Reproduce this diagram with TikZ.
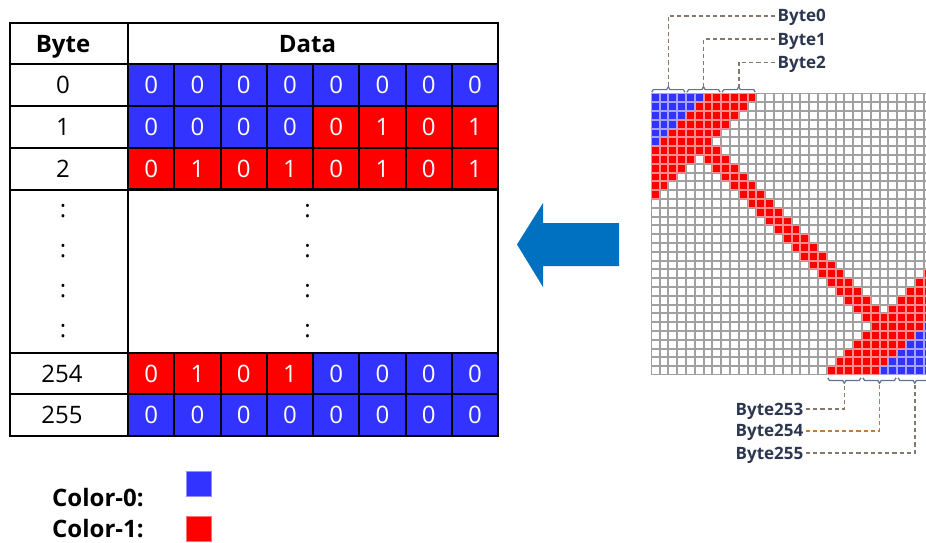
\documentclass[tikz,border=0pt]{standalone}
\usepackage{fontspec}
\setmainfont{Open Sans}
\definecolor{cblue}{RGB}{51,51,255}
\definecolor{cred}{RGB}{255,0,0}
\definecolor{arrowblue}{RGB}{0,112,192}
\definecolor{lblcol}{RGB}{45,55,80}
\definecolor{dashcol}{RGB}{135,120,110}
\definecolor{dashor}{RGB}{200,120,50}
\definecolor{brcol}{RGB}{95,115,145}
\definecolor{gridgray}{RGB}{160,160,160}
\tikzset{
  tfont/.style={font=\fontsize{24}{28}\selectfont, inner sep=0pt},
  thead/.style={font=\bfseries\fontsize{24}{28}\selectfont, inner sep=0pt, anchor=base},
  tcell/.style={draw=black, line width=2pt, minimum width=46.25pt, minimum height=41.5pt,
                inner sep=0pt, text=white, font=\fontsize{24}{28}\selectfont},
  blbl/.style={font=\bfseries\fontsize{17}{19}\selectfont, text=lblcol, inner xsep=2.5pt,
               inner ysep=0pt, text height=12pt, text depth=0pt},
  dashline/.style={draw=dashcol, line width=1.6pt, dash pattern=on 4.2pt off 3pt},
  bracket/.style={draw=brcol, line width=1.2pt, line join=round},
  lgd/.style={font=\bfseries\fontsize{24}{28}\selectfont, inner sep=0pt, anchor=base west},
  lsq/.style={minimum size=25pt, inner sep=0pt, line width=0.6pt}
}
\begin{document}
\begin{tikzpicture}[x=1pt,y=-1pt]
\useasboundingbox (0,0) rectangle (926,542);
\fill[white] (0,0) rectangle (926,542);

% ---------------- table ----------------
\foreach \i in {0,...,7}
  \node[tcell, fill=cblue] (ra\i) at ({128+46.25*(\i+0.5)},85) {0};
\foreach \i/\v/\f in {0/0/cblue,1/0/cblue,2/0/cblue,3/0/cblue,4/0/cred,5/1/cred,6/0/cred,7/1/cred}
  \node[tcell, fill=\f] (rb\i) at ({128+46.25*(\i+0.5)},127) {\v};
\foreach \i/\v in {0/0,1/1,2/0,3/1,4/0,5/1,6/0,7/1}
  \node[tcell, fill=cred] (rc\i) at ({128+46.25*(\i+0.5)},168.5) {\v};
\foreach \i/\v/\f in {0/0/cred,1/1/cred,2/0/cred,3/1/cred,4/0/cblue,5/0/cblue,6/0/cblue,7/0/cblue}
  \node[tcell, fill=\f] (rd\i) at ({128+46.25*(\i+0.5)},373.5) {\v};
\foreach \i in {0,...,7}
  \node[tcell, fill=cblue] (re\i) at ({128+46.25*(\i+0.5)},415) {0};

\draw[line width=2pt] (10,64) -- (498,64);
\draw[line width=2pt] (10,106) -- (128,106);
\draw[line width=2pt] (10,148) -- (128,148);
\draw[line width=2pt] (10,189.5) -- (498,189.5);
\draw[line width=2pt] (10,352.7) -- (498,352.7);
\draw[line width=2pt] (10,394.3) -- (128,394.3);
\draw[line width=2pt] (128,23) -- (128,436);
\draw[line width=2.4pt] (10,23) rectangle (498,436);

\node[thead] (hbyte) at (63,52.3) {Byte};
\node[thead] (hdata) at (307.5,52.3) {Data};

\node[tfont] (k0) at (63,85) {0};
\node[tfont] (k1) at (63,127) {1};
\node[tfont] (k2) at (63,168.5) {2};
\node[tfont] (k254) at (62,373.5) {254};
\node[tfont] (k255) at (62,415) {255};
\foreach \y [count=\n] in {211,251,291,331}{
  \node[tfont, anchor=base] (kd\n) at (63,\y+6.5) {:};
  \node[tfont, anchor=base] (dd\n) at (307.5,\y+6.5) {:};
}

% ---------------- legend ----------------
\node[lgd] (c0) at (52,506) {Color-0:};
\node[lgd] (c1) at (52,537.5) {Color-1:};
\node[lsq, fill=cblue, draw=cblue!55!white] (sq0) at (198.5,483.5) {};
\node[lsq, fill=cred, draw=cred!55!white] (sq1) at (198.5,528.5) {};

% ---------------- arrow ----------------
\fill[arrowblue] (517,244.5) -- (543,203) -- (543,223) -- (619,223) -- (619,266) -- (543,266) -- (543,287) -- cycle;

% ---------------- pixel grid ----------------
\begin{scope}
\clip (640,80) rectangle (926,400);
\foreach \r in {0,...,31}{
  \foreach \c in {0,...,31}{
    \pgfmathtruncatemacro{\s}{\r+\c}
    \pgfmathtruncatemacro{\dd}{abs(\c-\r)}
    \def\cc{white}\def\bc{gridgray}
    \ifnum\dd<2 \def\cc{cred}\def\bc{cred!45!white}\fi
    \ifnum\s<12 \def\cc{cred}\def\bc{cred!45!white}\fi
    \ifnum\s>50 \def\cc{cred}\def\bc{cred!45!white}\fi
    \ifnum\s<6 \def\cc{cblue}\def\bc{cblue!45!white}\fi
    \ifnum\s>56 \def\cc{cblue}\def\bc{cblue!45!white}\fi
    \filldraw[fill=\cc, draw=\bc, line width=0.9pt]
      ({650.7+8.8*\c+0.45},{93.3+8.8*\r+0.45}) rectangle ++(7.9,7.9);
  }
}
\end{scope}

% ---------------- brackets ----------------
\foreach \k/\nm in {0/tb0,1/tb1,2/tb2}{
  \pgfmathsetmacro{\xa}{650.7+35.2*\k+1}
  \pgfmathsetmacro{\xm}{650.7+35.2*\k+17.6}
  \pgfmathsetmacro{\xb}{650.7+35.2*\k+34.2}
  \draw[bracket] (\xa,92.2) -- (\xa+1.6,89.6) -- (\xm-1.6,89.6) -- (\xm,86.6) -- (\xm+1.6,89.6) -- (\xb-1.6,89.6) -- (\xb,92.2);
  \coordinate (\nm) at (\xm,86.6);
}
\foreach \k/\nm in {5/bb253,6/bb254,7/bb255}{
  \pgfmathsetmacro{\xa}{650.7+35.2*\k+1}
  \pgfmathsetmacro{\xm}{650.7+35.2*\k+17.6}
  \pgfmathsetmacro{\xb}{650.7+35.2*\k+34.2}
  \draw[bracket] (\xa,377.8) -- (\xa+1.6,380.4) -- (\xm-1.6,380.4) -- (\xm,383.4) -- (\xm+1.6,380.4) -- (\xb-1.6,380.4) -- (\xb,377.8);
  \coordinate (\nm) at (\xm,383.4);
}

% ---------------- byte labels ----------------
\node[blbl, anchor=west] (lb0) at (775,15.8) {Byte0};
\node[blbl, anchor=west] (lb1) at (775,39.1) {Byte1};
\node[blbl, anchor=west] (lb2) at (775,62.4) {Byte2};
\node[blbl, anchor=east] (lb253) at (806,409.1) {Byte253};
\node[blbl, anchor=east] (lb254) at (806,430.8) {Byte254};
\node[blbl, anchor=east] (lb255) at (806,453.1) {Byte255};

\draw[dashline] (lb0.west) -| (tb0);
\draw[dashline] (lb1.west) -| (tb1);
\draw[dashline] (lb2.west) -| (tb2);
\draw[dashline] (lb253.east) -| (bb253);
\draw[dashline, draw=dashor] (lb254.east) -| (bb254);
\draw[dashline] (lb255.east) -| (bb255);
\end{tikzpicture}
\end{document}
